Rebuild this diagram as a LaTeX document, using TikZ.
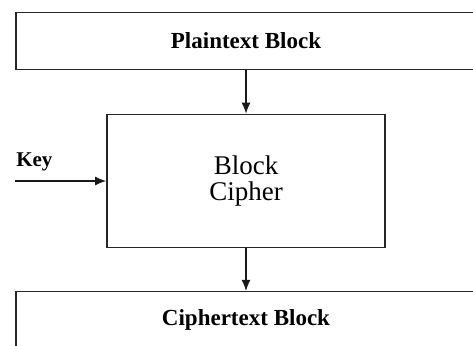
\documentclass[tikz,border=0pt]{standalone}
\usepackage{fontspec}
\setmainfont{Liberation Serif}
\usetikzlibrary{arrows.meta}
\begin{document}
\begin{tikzpicture}[x=1pt, y=-1pt, node distance=140pt]
                \tikzset{ block/.style={rectangle,draw=black!85,line width=1.2pt,minimum width=460pt,minimum height=57pt,align=center,font=\fontsize{23}{27}\selectfont\bfseries},
                        arrow/.style={-{Latex[length=11pt,width=9pt]}, line width=1.1pt, black!90}}
                \useasboundingbox (0,0) rectangle (473,345);
                \node[block] (plain) at (246,41) {Plaintext Block};
                \node[block, below of = plain, minimum width=278pt, minimum height=133pt, line width=1.8pt, font=\fontsize{27}{26}\selectfont] (cipher) {Block\\Cipher};
                \node[block, below of = cipher, yshift=1pt] (ctext) {Ciphertext Block};

                % Key input
                \coordinate[xshift=-91pt] (keyin) at (cipher.west);
                \node[anchor=base west, inner sep=1pt, font=\fontsize{21}{24}\selectfont\bfseries] (key) at ([yshift=15pt]keyin) {Key};

                % Flèches
                \draw[arrow] (plain) -- (cipher);
                \draw[arrow] (cipher) -- (ctext);
                \draw[arrow] (keyin) -- (cipher);
            \end{tikzpicture}
\end{document}
